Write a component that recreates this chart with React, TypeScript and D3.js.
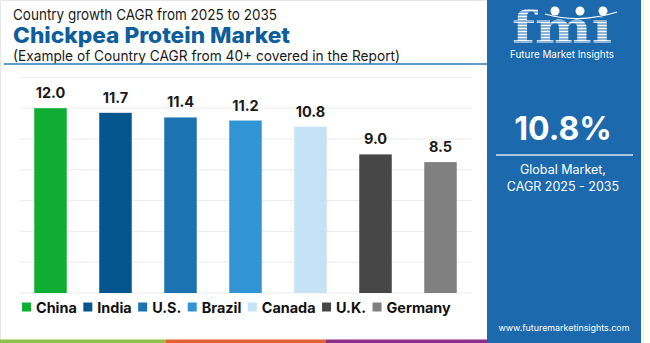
import React from "react";
import * as d3 from "d3";

const countries = ["China", "India", "U.S.", "Brazil", "Canada", "U.K.", "Germany"];
const cagr = [12.0, 11.7, 11.4, 11.2, 10.8, 9.0, 8.5];
const barColors = ["#10AD33", "#05568F", "#1B73B1", "#3195D5", "#C5E3F4", "#474747", "#808080"];
const yTicks = [0, 2, 4, 6, 8, 10, 12, 14];
const globalCagr = "10.8%";

const FONT = "Inter, 'Open Sans', 'DejaVu Sans', sans-serif";

let ctx: CanvasRenderingContext2D | null = null;
function measure(text: string, font: string): number {
  if (!ctx) {
    const c = document.createElement("canvas");
    ctx = c.getContext("2d");
  }
  if (!ctx) return text.length * 8;
  ctx.font = font;
  return ctx.measureText(text).width;
}

export default function App() {
  const W = 650;
  const H = 343;
  const x = d3
    .scaleBand<string>()
    .domain(countries)
    .range([18, 473])
    .paddingInner(0.5)
    .paddingOuter(0.25);
  const y = d3.scaleLinear().domain([0, 14]).range([293, 77.4]);

  // legend flow layout
  const legSize = 14.4;
  const legFont = `700 ${legSize}px Inter`;
  let lx = 22;
  const legend = countries.map((c, i) => {
    const item = { c, i, x: lx };
    const tw = measure(c, legFont);
    lx += 9 + 5 + tw + 6.5;
    return item;
  });

  const stripeYs = d3.range(9, 45, 3);

  return (
    <svg
      width={W}
      height={H}
      style={{ position: "fixed", left: 0, top: 0, background: "#fff" }}
      fontFamily={FONT}
    >
      <rect x={0} y={0} width={W} height={H} fill="#fff" />
      <rect x={0.5} y={0.5} width={488} height={340} fill="none" stroke="#e6e6e6" />
      <line x1={643.5} x2={643.5} y1={0} y2={343} stroke="#eeeeee" />

      {/* titles */}
      <text x={13} y={20} fontSize={15} fill="#1a1a1a" textLength={264} lengthAdjust="spacingAndGlyphs">
        Country growth CAGR from 2025 to 2035
      </text>
      <text x={13} y={43} fontSize={21.5} fontWeight={800} fill="#0D5E9B" textLength={277} lengthAdjust="spacingAndGlyphs">
        Chickpea Protein Market
      </text>
      <text x={13} y={60.5} fontSize={14.5} fill="#1a1a1a" textLength={387} lengthAdjust="spacingAndGlyphs">
        (Example of Country CAGR from 40+ covered in the Report)
      </text>
      <line x1={4} x2={487} y1={64} y2={64} stroke="#2B7BB9" strokeWidth={1.5} />

      {/* gridlines */}
      {yTicks.map((t) => (
        <line key={t} x1={20} x2={472} y1={y(t)} y2={y(t)} stroke="#ececec" strokeWidth={1} />
      ))}

      {/* bars */}
      {countries.map((c, i) => (
        <g key={c}>
          <rect
            x={x(c)!}
            y={y(cagr[i])}
            width={x.bandwidth()}
            height={y(0) - y(cagr[i])}
            fill={barColors[i]}
          />
          <text
            x={x(c)! + x.bandwidth() / 2}
            y={y(cagr[i]) - 10}
            textAnchor="middle"
            fontSize={14.5}
            fontWeight={700}
            fill="#1a1a1a"
          >
            {cagr[i].toFixed(1)}
          </text>
        </g>
      ))}

      {/* legend */}
      {legend.map((l) => (
        <g key={l.c}>
          <rect x={l.x} y={302.5} width={9} height={9} fill={barColors[l.i]} />
          <text x={l.x + 14} y={312.5} fontSize={legSize} fontWeight={700} fill="#111">
            {l.c}
          </text>
        </g>
      ))}

      {/* bottom stripes */}
      <rect x={0} y={339.5} width={166} height={3.5} fill="#8DC24B" />
      <rect x={166} y={339.5} width={160} height={3.5} fill="#E4622F" />
      <rect x={326} y={339.5} width={162} height={3.5} fill="#8A2F8C" />

      {/* right panel */}
      <rect x={487} y={0} width={154} height={343} fill="#1C6AAD" />

      {/* logo */}
      <text
        x={512}
        y={43}
        fontFamily="'DejaVu Serif', serif"
        fontWeight={700}
        fontSize={44}
        fill="#fff"
        textLength={100}
        lengthAdjust="spacingAndGlyphs"
      >
        fmi
      </text>
      {stripeYs.map((sy) => (
        <line key={sy} x1={508} x2={618} y1={sy} y2={sy} stroke="#1C6AAD" strokeWidth={1} />
      ))}
      <rect x={549} y={5} width={66} height={12} fill="#1C6AAD" />
      {[555, 580, 603].map((cx) => (
        <circle key={cx} cx={cx} cy={11} r={4.5} fill="#fff" />
      ))}
      <path d="M545,14 Q580,24 617,12" fill="none" stroke="#fff" strokeWidth={1.2} />
      <text x={562} y={58} textAnchor="middle" fontSize={10} fill="#fff" textLength={104} lengthAdjust="spacingAndGlyphs">
        Future Market Insights
      </text>

      <text x={563} y={140} textAnchor="middle" fontSize={32} fontWeight={700} fill="#fff">
        {globalCagr}
      </text>
      <line x1={496} x2={633} y1={155} y2={155} stroke="#d8e6f3" strokeWidth={1.5} />
      <text x={563} y={174} textAnchor="middle" fontSize={12.5} fill="#fff">
        Global Market,
      </text>
      <text x={563} y={191} textAnchor="middle" fontSize={12.5} fill="#fff">
        CAGR 2025 - 2035
      </text>
      <text x={564} y={331} textAnchor="middle" fontSize={8.9} fill="#fff">
        www.futuremarketinsights.com
      </text>
    </svg>
  );
}
